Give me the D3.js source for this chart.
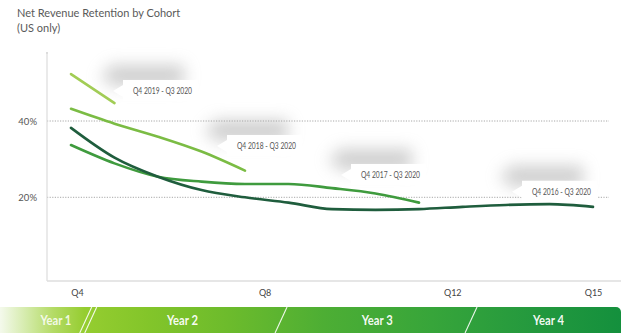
<!DOCTYPE html>
<html>
<head>
<meta charset="utf-8">
<script src="https://cdn.jsdelivr.net/npm/d3@7"></script>
<style>
  html, body { margin: 0; padding: 0; background: #fff; }
  svg { display: block; }
  .narrow { font-family: Lato, "Open Sans", sans-serif; }
</style>
</head>
<body>
<svg id="chart" width="621" height="333"></svg>
<script>
// Net revenue retention (%) per cohort, one value per quarter since the cohort's first quarter
const cohorts = ["Q4 2019 - Q3 2020", "Q4 2018 - Q3 2020", "Q4 2017 - Q3 2020", "Q4 2016 - Q3 2020"];
const nrr2019 = [52.3, 44.7];
const nrr2018 = [43.2, 39.3, 35.9, 32.0, 27.0];
const nrr2017 = [33.7, 28.9, 25.4, 24.1, 23.5, 23.5, 22.4, 21.0, 18.6];
const nrr2016 = [38.2, 30.4, 25.4, 21.9, 20.0, 18.6, 16.9, 16.7, 16.9, 17.5, 18.0, 18.2, 17.5];
const series = [nrr2019, nrr2018, nrr2017, nrr2016];
const colors = ["#a2cd55", "#7bbc44", "#3f9b3e", "#1f5d3d"];

// Axis labels
const xTickQuarters = [4, 8, 12, 15];
const xTickLabels = ["Q4", "Q8", "Q12", "Q15"];
const yTicks = [20, 40];

// Year band below the axis (positions in quarters)
const yearLabels = ["Year 1", "Year 2", "Year 3", "Year 4"];
const yearCenters = [3.55, 6.25, 10.4, 14.05];
const yearBreaks = [4.25, 8.35, 12.4];

const svg = d3.select("#chart");

// Plot frame
const plotLeft = 47, plotRight = 621, plotTop = 52, plotBottom = 281;

const x = d3.scaleLinear().domain([0, 12]).range([71, 593]);          // quarters since cohort start
const xq = d3.scaleLinear().domain([4, 15]).range([77, 593]);         // quarter labels
const y = d3.scaleLinear().domain([0, 40]).range([273.6, 121]);

// Filters / gradients
const defs = svg.append("defs");
defs.append("filter").attr("id", "soft")
  .attr("filterUnits", "userSpaceOnUse")
  .attr("x", -80).attr("y", -80).attr("width", 260).attr("height", 160)
  .append("feGaussianBlur").attr("stdDeviation", 8);

const grad = defs.append("linearGradient").attr("id", "band")
  .attr("x1", "0%").attr("x2", "100%");
[[0, "#ffffff"], [0.02, "#f1f8e6"], [0.06, "#d2eaa6"], [0.1, "#b4db66"], [0.15, "#95cd30"],
 [0.25, "#83c52a"], [0.38, "#6cbb2c"], [0.53, "#4dae34"], [0.7, "#37a53a"], [0.86, "#24993e"], [1, "#14903d"]]
  .forEach(([o, c]) => grad.append("stop").attr("offset", o).attr("stop-color", c));

// Title
svg.append("text").attr("x", 17).attr("y", 17)
  .attr("font-family", "Lato, sans-serif").attr("font-size", 11).attr("fill", "#5a5a5a")
  .text("Net Revenue Retention by Cohort");
svg.append("text").attr("x", 17).attr("y", 32)
  .attr("font-family", "Lato, sans-serif").attr("font-size", 11).attr("fill", "#5a5a5a")
  .text("(US only)");

// Gridlines
svg.append("g").selectAll("line").data(yTicks).join("line")
  .attr("x1", plotLeft).attr("x2", 609)
  .attr("y1", d => y(d)).attr("y2", d => y(d))
  .attr("stroke", "#a8a8a8").attr("stroke-width", 1).attr("stroke-dasharray", "1.2,1.4");

// Y axis
const yAxis = svg.append("g").attr("transform", `translate(${plotLeft},0)`)
  .call(d3.axisLeft(y).tickValues(yTicks).tickSize(0).tickPadding(10).tickFormat(d => d + "%"));
yAxis.select(".domain").remove();
yAxis.selectAll("text").attr("font-family", "Lato, sans-serif").attr("font-size", 9.5).attr("fill", "#555");
svg.append("line").attr("x1", plotLeft).attr("x2", plotLeft).attr("y1", plotTop).attr("y2", plotBottom)
  .attr("stroke", "#dcdcdc").attr("stroke-width", 1.2);
svg.append("line").attr("x1", plotLeft - 1).attr("x2", plotLeft + 1).attr("y1", plotTop + 1).attr("y2", plotTop + 1)
  .attr("stroke", "#cfcfcf");

// X axis
const xAxis = svg.append("g").attr("transform", `translate(0,${plotBottom})`)
  .call(d3.axisBottom(xq).tickValues(xTickQuarters).tickSize(0).tickPadding(9)
    .tickFormat((d, i) => xTickLabels[i]));
xAxis.select(".domain").remove();
xAxis.selectAll("text").attr("class", "narrow").attr("font-size", 9).attr("fill", "#444");
svg.append("line").attr("x1", plotLeft).attr("x2", plotRight).attr("y1", plotBottom).attr("y2", plotBottom)
  .attr("stroke", "#dedede").attr("stroke-width", 1.5);

// Cohort lines
const line = d3.line().x((d, i) => x(i)).y(d => y(d)).curve(d3.curveMonotoneX);
svg.append("g").selectAll("path").data(series).join("path")
  .attr("d", line).attr("fill", "none")
  .attr("stroke", (d, i) => colors[i]).attr("stroke-width", 2.6)
  .attr("stroke-linecap", "round");

// Callouts: arrow box placed relative to each line's last point
const calloutOffsets = [[-1.5, -12], [-28, -24.6], [-78, -27.6], [-81, -15]];
const boxPath = "M0,0 L10,-6 L10,-11 L85,-11 L85,10 L10,10 L10,6 Z";
const callouts = svg.append("g").selectAll("g").data(series).join("g")
  .attr("transform", (d, i) => {
    const ex = x(d.length - 1) + calloutOffsets[i][0];
    const ey = y(d[d.length - 1]) + calloutOffsets[i][1];
    return `translate(${ex},${ey})`;
  });
callouts.append("path").attr("d", boxPath)
  .attr("transform", "translate(-14,-15)")
  .attr("fill", "#a0a0a0").attr("opacity", 0.5).attr("filter", "url(#soft)");
callouts.append("path").attr("d", boxPath).attr("fill", "#fff");
callouts.append("text").attr("class", "narrow")
  .attr("x", 20).attr("y", 3).attr("font-size", 8.5).attr("fill", "#555")
  .attr("textLength", 59).attr("lengthAdjust", "spacingAndGlyphs")
  .text((d, i) => cohorts[i]);

// Year band
const bandTop = 307;
svg.append("rect").attr("x", -10).attr("y", bandTop).attr("width", 631).attr("height", 36)
  .attr("rx", 5).attr("fill", "url(#band)");
const slash = (q, dx) => {
  const bx = xq(q) + dx;
  svg.append("line").attr("x1", bx - 6).attr("y1", 333).attr("x2", bx + 6).attr("y2", bandTop)
    .attr("stroke", "#fff").attr("stroke-width", 1.1).attr("opacity", 0.9);
};
slash(yearBreaks[0], -3); slash(yearBreaks[0], 2);
slash(yearBreaks[1], 0);
slash(yearBreaks[2], 0);
svg.append("g").selectAll("text").data(yearLabels).join("text")
  .attr("class", "narrow")
  .attr("x", (d, i) => xq(yearCenters[i])).attr("y", 325)
  .attr("text-anchor", "middle").attr("font-size", 13).attr("font-weight", "bold")
  .attr("textLength", 31).attr("lengthAdjust", "spacingAndGlyphs")
  .attr("fill", "#fff").attr("fill-opacity", (d, i) => i === 0 ? 0.85 : 0.95)
  .text(d => d);
</script>
</body>
</html>
